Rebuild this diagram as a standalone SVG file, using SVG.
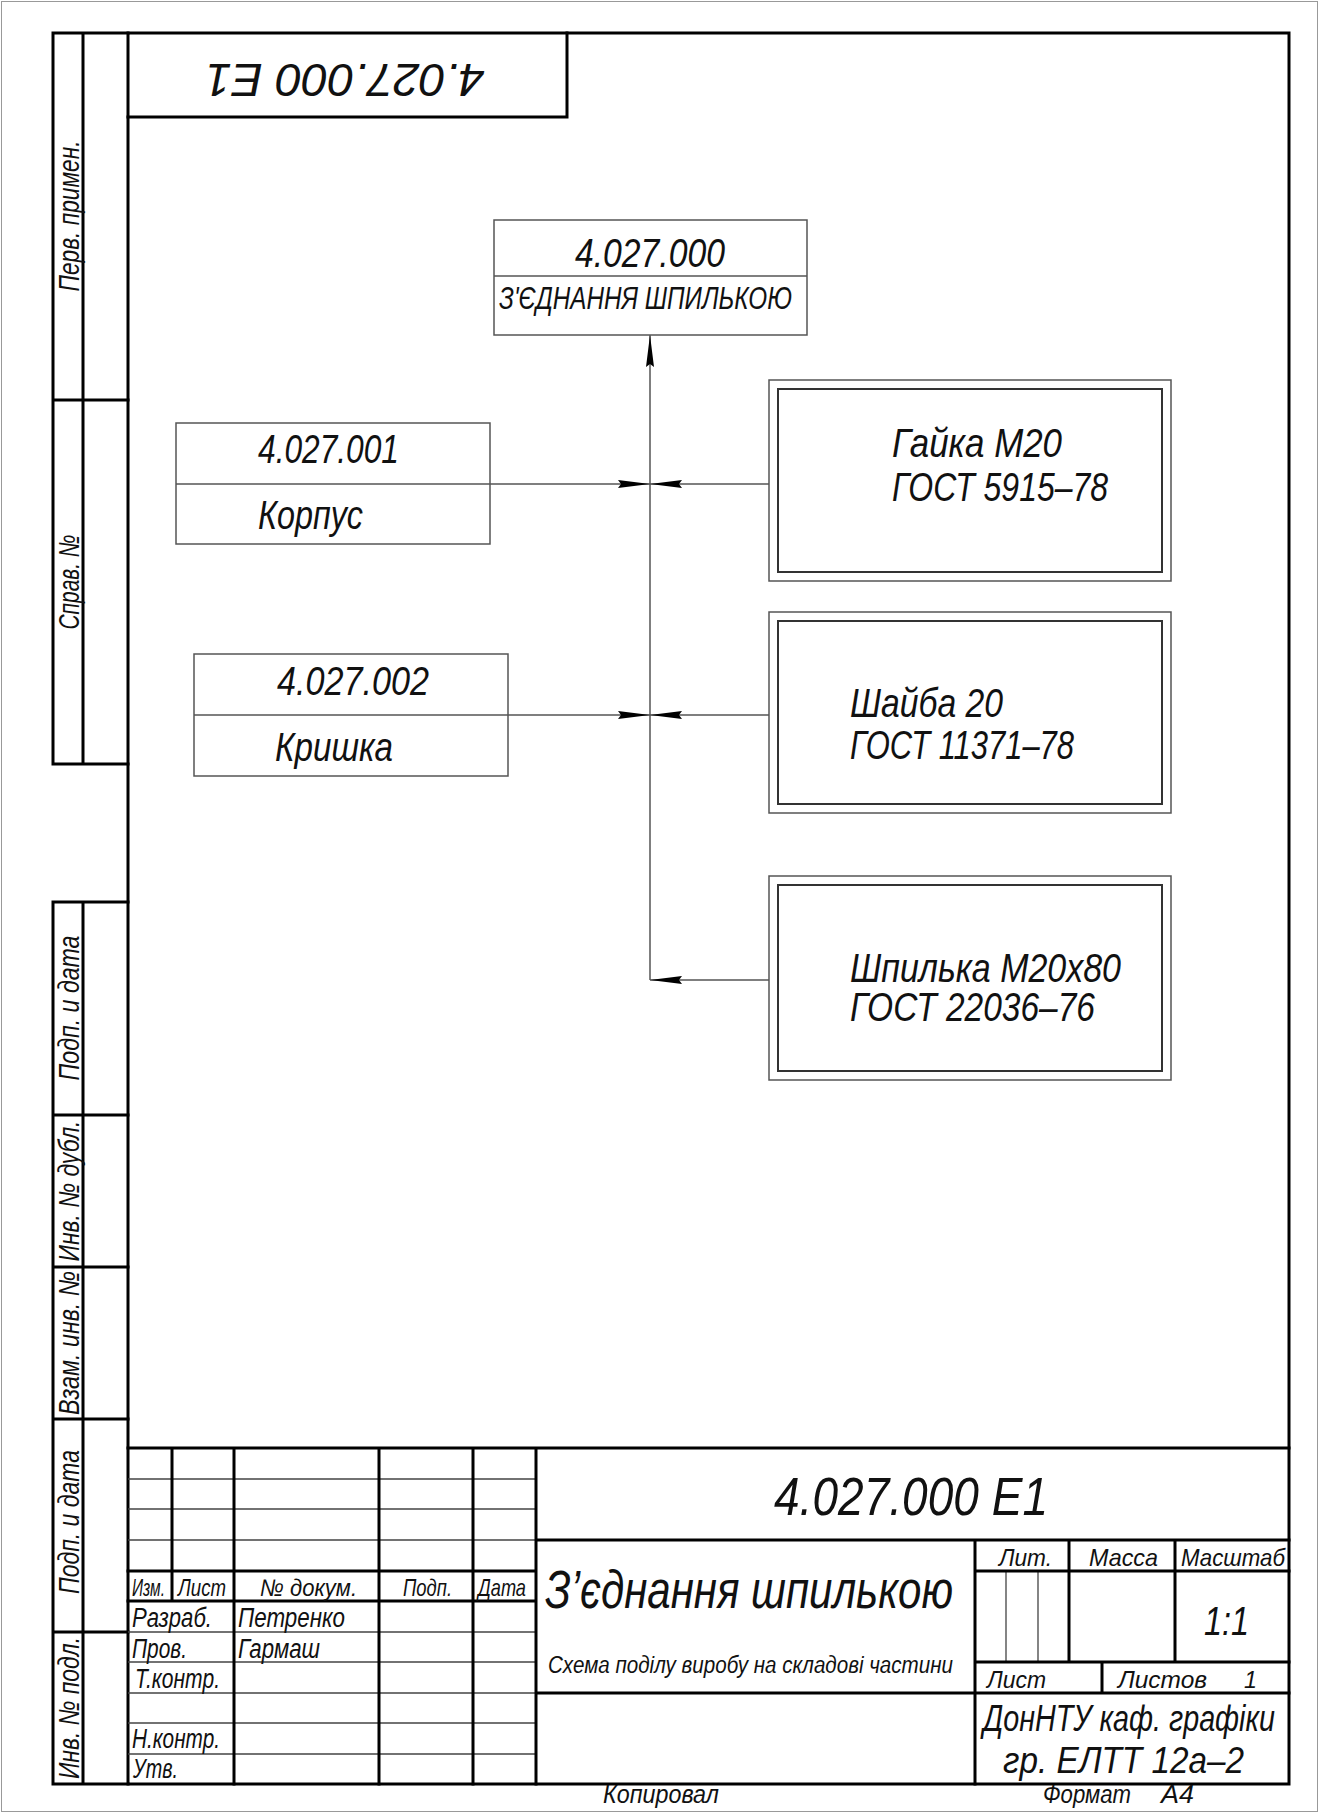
<svg xmlns="http://www.w3.org/2000/svg" width="1319" height="1813" viewBox="0 0 1319 1813">
<style>
.thick{stroke:#000;stroke-width:3;fill:none;stroke-linecap:square}
.thin{stroke:#444;stroke-width:1.3;fill:none}
.box{stroke:#555;stroke-width:1.5;fill:none}
.inner{stroke:#333;stroke-width:2;fill:none}
.con{stroke:#555;stroke-width:1.5;fill:none}
text{font-family:"Liberation Sans","DejaVu Sans",sans-serif;font-style:italic;fill:#111}
.s29{font-size:29px}
.s27{font-size:27px}
.s24{font-size:24px}
.s40{font-size:40px}
.s41{font-size:41px}
</style>
<defs>
<marker id="arr" viewBox="0 0 32 8" refX="32" refY="4" markerWidth="32" markerHeight="8" markerUnits="userSpaceOnUse" orient="auto">
<path d="M0,0 L32,4 L0,8 L3,4 z" fill="#000"/>
</marker>
</defs>
<rect x="1.5" y="1.5" width="1316" height="1810" fill="#fff" stroke="#999" stroke-width="1"/>

<g id="frame">
<rect class="thick" x="128" y="33" width="1161" height="1751"/>
<path class="thick" d="M53,33 H128 M53,33 V764 H128 M83,33 V764 M53,400 H128"/>
<path class="thick" d="M53,902 H128 M53,902 V1784 H128 M83,902 V1784 M53,1115 H128 M53,1267 H128 M53,1419 H128 M53,1632 H128"/>
<path class="thick" d="M567,33 V117 H128"/>
<text class="s29" transform="translate(79,216) rotate(-90)" text-anchor="middle" textLength="151" lengthAdjust="spacingAndGlyphs">Перв. примен.</text>
<text class="s29" transform="translate(79,582) rotate(-90)" text-anchor="middle" textLength="95" lengthAdjust="spacingAndGlyphs">Справ. №</text>
<text class="s29" transform="translate(79,1008) rotate(-90)" text-anchor="middle" textLength="145" lengthAdjust="spacingAndGlyphs">Подп. и дата</text>
<text class="s29" transform="translate(79,1191) rotate(-90)" text-anchor="middle" textLength="141" lengthAdjust="spacingAndGlyphs">Инв. № дубл.</text>
<text class="s29" transform="translate(79,1343) rotate(-90)" text-anchor="middle" textLength="144" lengthAdjust="spacingAndGlyphs">Взам. инв. №</text>
<text class="s29" transform="translate(79,1522) rotate(-90)" text-anchor="middle" textLength="144" lengthAdjust="spacingAndGlyphs">Подп. и дата</text>
<text class="s29" transform="translate(79,1708) rotate(-90)" text-anchor="middle" textLength="142" lengthAdjust="spacingAndGlyphs">Инв. № подл.</text>
<text style="font-size:47px" x="345" y="98" text-anchor="middle" transform="rotate(180 345 81)" textLength="279" lengthAdjust="spacingAndGlyphs">4.027.000 Е1</text>
</g>

<g id="title-block">
<path class="thin" d="M128,1479 H536 M128,1509 H536 M128,1540 H536 M128,1632 H536 M128,1662 H536 M128,1693 H536 M128,1723 H536 M128,1754 H536 M1006,1571 V1662 M1038,1571 V1662"/>
<path class="thick" d="M128,1448 H1289 M128,1571 H536 M128,1601 H536 M536,1540 H1289 M536,1693 H1289 M975,1571 H1289 M975,1662 H1289 M172,1448 V1601 M234,1448 V1784 M379,1448 V1784 M473,1448 V1784 M536,1448 V1784 M975,1540 V1784 M1069,1540 V1662 M1175,1540 V1662 M1102,1662 V1693"/>
<text class="s24" x="132" y="1596" textLength="33" lengthAdjust="spacingAndGlyphs">Изм.</text>
<text class="s24" x="178" y="1596" textLength="48" lengthAdjust="spacingAndGlyphs">Лист</text>
<text class="s24" x="260" y="1596" textLength="97" lengthAdjust="spacingAndGlyphs">№ докум.</text>
<text class="s24" x="403" y="1596" textLength="49" lengthAdjust="spacingAndGlyphs">Подп.</text>
<text class="s24" x="478" y="1596" textLength="48" lengthAdjust="spacingAndGlyphs">Дата</text>
<text class="s27" x="132" y="1627" textLength="80" lengthAdjust="spacingAndGlyphs">Разраб.</text>
<text class="s27" x="238" y="1627" textLength="107" lengthAdjust="spacingAndGlyphs">Петренко</text>
<text class="s27" x="132" y="1658" textLength="55" lengthAdjust="spacingAndGlyphs">Пров.</text>
<text class="s27" x="238" y="1658" textLength="82" lengthAdjust="spacingAndGlyphs">Гармаш</text>
<text class="s27" x="135" y="1688" textLength="85" lengthAdjust="spacingAndGlyphs">Т.контр.</text>
<text class="s27" x="132" y="1748" textLength="88" lengthAdjust="spacingAndGlyphs">Н.контр.</text>
<text class="s27" x="133" y="1778" textLength="45" lengthAdjust="spacingAndGlyphs">Утв.</text>
<text style="font-size:54px" x="774" y="1515" textLength="274" lengthAdjust="spacingAndGlyphs">4.027.000 Е1</text>
<text style="font-size:54px" x="545" y="1608" textLength="408" lengthAdjust="spacingAndGlyphs">З’єднання шпилькою</text>
<text style="font-size:23px" x="548" y="1673" textLength="405" lengthAdjust="spacingAndGlyphs">Схема поділу виробу на складові частини</text>
<text class="s24" x="999" y="1566" textLength="53" lengthAdjust="spacingAndGlyphs">Лит.</text>
<text class="s24" x="1089" y="1566" textLength="69" lengthAdjust="spacingAndGlyphs">Масса</text>
<text class="s24" x="1181" y="1566" textLength="104" lengthAdjust="spacingAndGlyphs">Масштаб</text>
<text style="font-size:40px" x="1204" y="1635" textLength="45" lengthAdjust="spacingAndGlyphs">1:1</text>
<text class="s24" x="987" y="1688" textLength="59" lengthAdjust="spacingAndGlyphs">Лист</text>
<text class="s24" x="1118" y="1688" textLength="89" lengthAdjust="spacingAndGlyphs">Листов</text>
<text class="s24" x="1244" y="1688" textLength="13" lengthAdjust="spacingAndGlyphs">1</text>
<text style="font-size:36px" x="983" y="1731" textLength="292" lengthAdjust="spacingAndGlyphs">ДонНТУ каф. графіки</text>
<text style="font-size:36px" x="1003" y="1773" textLength="241" lengthAdjust="spacingAndGlyphs">гр. ЕЛТТ 12а–2</text>
<text style="font-size:25px" x="603" y="1803" textLength="116" lengthAdjust="spacingAndGlyphs">Копировал</text>
<text style="font-size:25px" x="1043" y="1803" textLength="88" lengthAdjust="spacingAndGlyphs">Формат</text>
<text style="font-size:25px" x="1161" y="1803" textLength="33" lengthAdjust="spacingAndGlyphs">А4</text>
</g>

<g id="connectors">
<path class="con" d="M650,980 V335" marker-end="url(#arr)"/>
<path class="con" d="M490,484 H650" marker-end="url(#arr)"/>
<path class="con" d="M769,484 H650" marker-end="url(#arr)"/>
<path class="con" d="M508,715 H650" marker-end="url(#arr)"/>
<path class="con" d="M769,715 H650" marker-end="url(#arr)"/>
<path class="con" d="M769,980 H650" marker-end="url(#arr)"/>
</g>

<g id="node-assembly">
<rect class="box" x="494" y="220" width="313" height="115"/>
<path class="box" d="M494,276 H807"/>
<text class="s40" x="575" y="267" textLength="150" lengthAdjust="spacingAndGlyphs">4.027.000</text>
<text style="font-size:31px" x="499" y="309" textLength="293" lengthAdjust="spacingAndGlyphs">З'ЄДНАННЯ ШПИЛЬКОЮ</text>
</g>

<g id="node-korpus">
<rect class="box" x="176" y="423" width="314" height="121"/>
<path class="box" d="M176,484 H490"/>
<text class="s40" x="258" y="463" textLength="141" lengthAdjust="spacingAndGlyphs">4.027.001</text>
<text class="s40" x="258" y="529" textLength="105" lengthAdjust="spacingAndGlyphs">Корпус</text>
</g>

<g id="node-kryshka">
<rect class="box" x="194" y="654" width="314" height="122"/>
<path class="box" d="M194,715 H508"/>
<text class="s40" x="277" y="695" textLength="152" lengthAdjust="spacingAndGlyphs">4.027.002</text>
<text class="s40" x="275" y="761" textLength="118" lengthAdjust="spacingAndGlyphs">Кришка</text>
</g>

<g id="node-gaika">
<rect class="box" x="769" y="380" width="402" height="201"/>
<rect class="inner" x="778" y="389" width="384" height="183"/>
<text class="s41" x="892" y="457" textLength="170" lengthAdjust="spacingAndGlyphs">Гайка М20</text>
<text class="s41" x="892" y="501" textLength="216" lengthAdjust="spacingAndGlyphs">ГОСТ 5915–78</text>
</g>

<g id="node-shaiba">
<rect class="box" x="769" y="612" width="402" height="201"/>
<rect class="inner" x="778" y="621" width="384" height="183"/>
<text class="s41" x="850" y="717" textLength="153" lengthAdjust="spacingAndGlyphs">Шайба 20</text>
<text class="s41" x="850" y="759" textLength="224" lengthAdjust="spacingAndGlyphs">ГОСТ 11371–78</text>
</g>

<g id="node-shpilka">
<rect class="box" x="769" y="876" width="402" height="204"/>
<rect class="inner" x="778" y="885" width="384" height="186"/>
<text class="s41" x="850" y="982" textLength="271" lengthAdjust="spacingAndGlyphs">Шпилька М20х80</text>
<text class="s41" x="850" y="1021" textLength="245" lengthAdjust="spacingAndGlyphs">ГОСТ 22036–76</text>
</g>
</svg>
